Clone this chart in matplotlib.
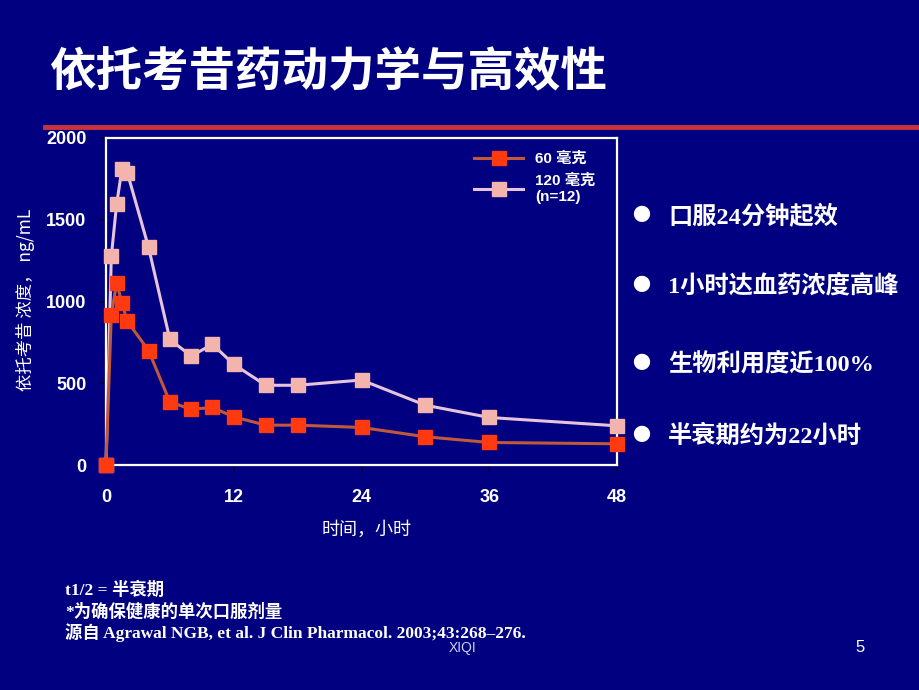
import matplotlib
matplotlib.use("Agg")
import matplotlib.pyplot as plt
from matplotlib.lines import Line2D

# data (ng/mL vs hours)
t_60 = [0, 0.5, 1, 1.5, 2, 4, 6, 8, 10, 12, 15, 18, 24, 30, 36, 48]
c_60 = [0, 920, 1115, 990, 880, 700, 386, 341, 352, 295, 244, 244, 230, 173, 138, 130]
t_120 = [0, 0.5, 1, 1.5, 2, 4, 6, 8, 10, 12, 15, 18, 24, 30, 36, 48]
c_120 = [0, 1276, 1596, 1811, 1789, 1331, 768, 667, 738, 616, 488, 488, 520, 366, 291, 240]

x_ticks = [0, 12, 24, 36, 48]
y_ticks = [0, 500, 1000, 1500, 2000]

bullets = ["口服24分钟起效", "1小时达血药浓度高峰", "生物利用度近100%", "半衰期约为22小时"]
footnotes = ["t1/2 = 半衰期", "*为确保健康的单次口服剂量",
             "源自 Agrawal NGB, et al. J Clin Pharmacol. 2003;43:268–276."]

bg = "#000080"
cjk = ["Noto Sans CJK SC", "DejaVu Sans"]
sans = ["Liberation Sans", "Noto Sans CJK SC"]
serif = ["Liberation Serif", "Noto Sans CJK SC"]

fig = plt.figure(figsize=(9.2, 6.9), dpi=100, facecolor=bg)

# title and red rule
fig.text(0.053, 0.895, "依托考昔药动力学与高效性", color="white", fontsize=33.5,
         fontweight="bold", family=cjk, va="center", ha="left")
fig.add_artist(Line2D([0.049, 1.0], [0.816, 0.816], color="#c8323c", lw=3.5,
                      transform=fig.transFigure))

ax = fig.add_axes([0.1152, 0.326, 0.5555, 0.474])
ax.set_facecolor(bg)

ax.plot(t_120, c_120, color="#e8c4dc", lw=2.2, marker="s", markersize=10,
        markerfacecolor="#f4b4ae", markeredgecolor="#f4b4ae", clip_on=False,
        label="120 毫克\n(n=12)", zorder=3)
ax.plot(t_60, c_60, color="#c0583c", lw=2.2, marker="s", markersize=10,
        markerfacecolor="#ff3a10", markeredgecolor="#ff3a10", clip_on=False,
        label="60 毫克", zorder=4)

ax.set_xlim(0, 48)
ax.set_ylim(0, 2000)
ax.set_xticks(x_ticks)
ax.set_yticks(y_ticks)
for s in ax.spines.values():
    s.set_color("white")
    s.set_linewidth(1.6)
ax.tick_params(direction="out", length=5, width=1.2, color="#000030",
               labelcolor="white", labelsize=13)
ax.tick_params(axis="y", pad=9)
ax.tick_params(axis="x", pad=12)
for lab in ax.get_xticklabels() + ax.get_yticklabels():
    lab.set_fontweight("bold")
    lab.set_family(sans)

ax.set_xlabel("时间，小时", color="white", fontsize=13, family=cjk)
ax.xaxis.set_label_coords(0.51, -0.17)
fig.text(0.028, 0.565, "依托考昔 浓度， ng/mL", color="white", fontsize=12.5,
         family=cjk, rotation=90, ha="center", va="center")

handles, labels = ax.get_legend_handles_labels()
leg = ax.legend(handles[::-1], labels[::-1], loc="upper right",
                bbox_to_anchor=(0.985, 1.0), frameon=False, handlelength=3.2,
                labelspacing=0.5, prop={"family": sans, "size": 11, "weight": "bold"})
for txt in leg.get_texts():
    txt.set_color("white")

# bullet list on the right
bullet_y = [216, 286, 364, 436]
for y, s in zip(bullet_y, bullets):
    yf = 1 - y / 690
    fig.text(641 / 920, yf, "●", color="white", fontsize=13, family=cjk,
             ha="center", va="center")
    fig.text(668 / 920, yf, s, color="white", fontsize=17.5, fontweight="bold",
             family=serif, ha="left", va="center")

# footnotes
for y, s in zip([590, 612, 633], footnotes):
    fig.text(65 / 920, 1 - y / 690, s, color="white", fontsize=12.5,
             fontweight="bold", family=serif, ha="left", va="center")

fig.text(463 / 920, 1 - 648 / 690, "XIQI", color="#d0d0e8", fontsize=10,
         family=sans, ha="center", va="center")
fig.text(860 / 920, 1 - 647 / 690, "5", color="white", fontsize=12,
         family=sans, ha="center", va="center")

fig.savefig("out.png", dpi=100, facecolor=bg)
